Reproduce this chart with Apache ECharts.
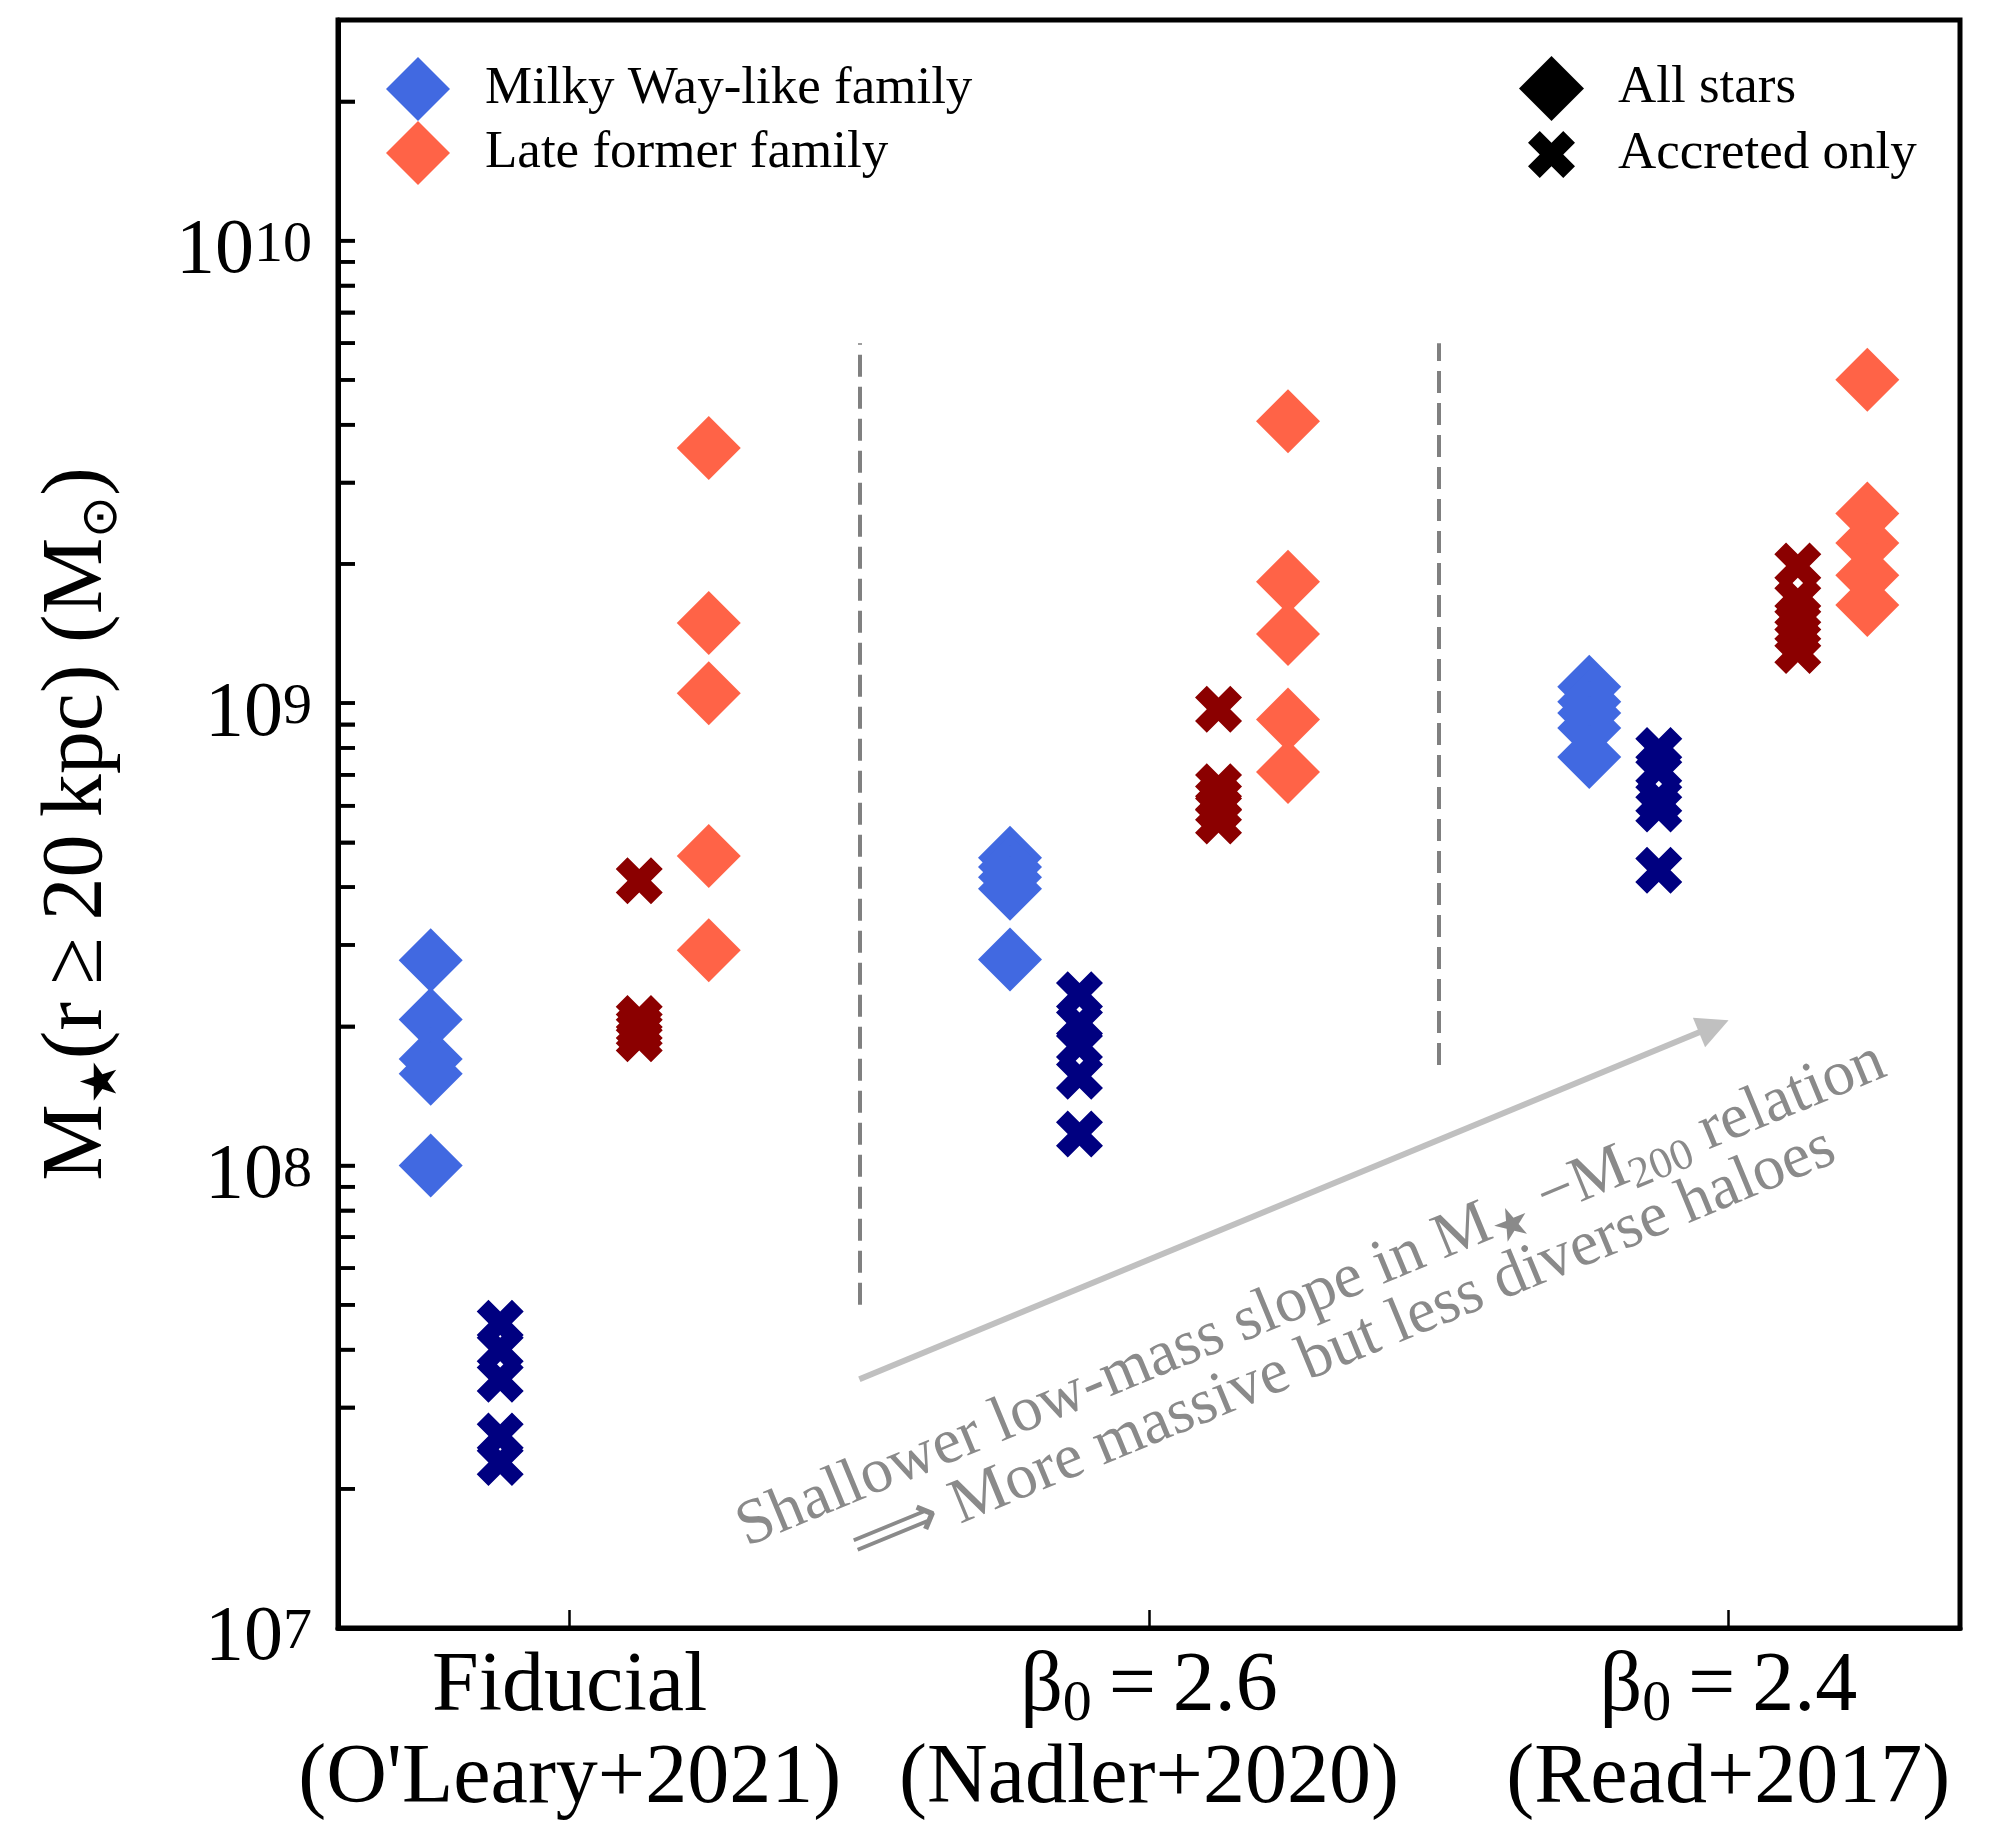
<!DOCTYPE html>
<html><head><meta charset="utf-8">
<script src="https://cdn.jsdelivr.net/npm/echarts@6/dist/echarts.min.js"></script>
<style>html,body{margin:0;padding:0;background:#fff}#c{width:1999px;height:1822px}</style>
</head><body><div id="c"></div><script>
// ---------------- data ----------------
const categories = ['Fiducial', 'β0 = 2.6', 'β0 = 2.4'];
const references = ["(O'Leary+2021)", '(Nadler+2020)', '(Read+2017)'];
const categoryPositions = [0, 1, 2];

// Milky Way-like family, all stars (blue diamonds)
const mwAllStars = [
  [2.78e8, 2.07e8, 1.70e8, 1.58e8, 1.0e8],
  [4.63e8, 4.42e8, 4.2e8, 3.97e8, 2.79e8],
  [1.085e9, 1.007e9, 9.52e8, 8.83e8, 7.65e8]
];
// Milky Way-like family, accreted only (navy crosses)
const mwAccreted = [
  [4.56e7, 4.0e7, 3.45e7, 2.60e7, 2.28e7],
  [2.34e8, 2.02e8, 1.82e8, 1.56e8, 1.17e8],
  [7.9e8, 7.2e8, 6.2e8, 5.9e8, 4.35e8]
];
// Late former family, all stars (orange diamonds)
const lfAllStars = [
  [3.56e9, 1.49e9, 1.05e9, 4.67e8, 2.92e8],
  [4.07e9, 1.83e9, 1.41e9, 9.22e8, 7.10e8],
  [5.0e9, 2.57e9, 2.22e9, 1.89e9, 1.63e9]
];
// Late former family, accreted only (dark red crosses)
const lfAccreted = [
  [4.13e8, 2.08e8, 2.0e8, 1.95e8, 1.88e8],
  [9.7e8, 6.59e8, 6.23e8, 5.93e8, 5.56e8],
  [1.98e9, 1.67e9, 1.53e9, 1.41e9, 1.30e9]
];
const groupOffsets = { mwAll: -0.24, mwAcc: -0.12, lfAcc: 0.12, lfAll: 0.24 };

const yLabelValues = [1e7, 1e8, 1e9, 1e10];
const yMantissas = [1, 2, 3, 4, 5, 6, 7, 8, 9];
const yMin = 1e7, yMax = 3e10;
const xMin = -0.4, xMax = 2.4;

const dividerX = [0.5, 1.5];
const dividerBottom = [5e7, 1.65e8];
const dividerTop = [6e9, 6e9];
const arrowStart = [0.5, 3.45e7];
const arrowEnd = [1.975, 2.0e8];
const noteLine1Anchor = [1.28, 5.24e7];
const noteLine2Anchor = [1.335, 4.04e7];

// ---------------- build ----------------
const FONT = "'Liberation Serif','Times New Roman',serif";
const CROSS = 'path://M6 0L8 2L6 4L8 6L6 8L4 6L2 8L0 6L2 4L0 2L2 0L4 2Z';
const GRID = { left: 338, right: 39, top: 20, bottom: 193 };
const CHART_W = 1999;
const TICK_PX = 17;

function pts(groups, off) {
  const out = [];
  groups.forEach((vals, i) => vals.forEach(v => out.push([categoryPositions[i] + off, v])));
  return out;
}
const yTicks = [];
for (let e = 7; e <= 10; e++) yMantissas.forEach(m => { const v = m * Math.pow(10, e); if (v <= yMax * 1.0001) yTicks.push(v); });
// tick length expressed in x-data units (from the plot width)
const tickLenData = (xMax - xMin) * TICK_PX / (CHART_W - GRID.left - GRID.right);

function richCat(s) {
  if (s.startsWith('β0')) return '{n|β}{sub|0}{n|' + s.slice(2).replace(/ /g, '\u2009') + '}';
  return '{n|' + s + '}';
}

const chart = echarts.init(document.getElementById('c'), null, { renderer: 'canvas' });
const scatterBase = { type: 'scatter', emphasis: { disabled: true }, z: 3 };
const legendText = { fontFamily: FONT, fontSize: 53, color: '#000' };
const spine = { show: true, onZero: false, lineStyle: { color: '#000', width: 5 } };

chart.setOption({
  animation: false,
  backgroundColor: '#fff',
  grid: Object.assign({ show: true, borderColor: '#000', borderWidth: 5, backgroundColor: 'transparent' }, GRID),
  legend: [
    { data: ['Milky Way-like family', 'Late former family'], orient: 'vertical', left: 386, top: 57, itemWidth: 64, itemHeight: 64, itemGap: 0, padding: 0, selectedMode: false,
      textStyle: Object.assign({ padding: [0, 0, 0, 30] }, legendText) },
    { data: ['All stars'], orient: 'vertical', left: 1519, top: 56, itemWidth: 65, itemHeight: 65, padding: 0, selectedMode: false,
      textStyle: Object.assign({ padding: [0, 0, 0, 29] }, legendText) },
    { data: ['Accreted only'], orient: 'vertical', left: 1528, top: 128, itemWidth: 47, itemHeight: 47, padding: 0, selectedMode: false,
      textStyle: Object.assign({ padding: [0, 0, 0, 38] }, legendText) }
  ],
  xAxis: {
    type: 'value', min: xMin, max: xMax, position: 'bottom',
    axisLine: spine, splitLine: { show: false },
    axisTick: { show: true, inside: true, length: 18, lineStyle: { color: '#000', width: 2.5 }, customValues: categoryPositions },
    axisLabel: {
      customValues: categoryPositions, margin: 14, color: '#000',
      formatter: v => { const i = Math.round(v); return richCat(categories[i]) + '\n{n|' + references[i] + '}'; },
      rich: {
        n: { fontFamily: FONT, fontSize: 84, lineHeight: 92, color: '#000' },
        sub: { fontFamily: FONT, fontSize: 58, lineHeight: 34, verticalAlign: 'bottom', color: '#000' }
      }
    }
  },
  yAxis: {
    type: 'log', logBase: 10, min: yMin, max: yMax, position: 'left',
    axisLine: spine, splitLine: { show: false }, minorTick: { show: false },
    axisTick: { show: false },
    axisLabel: {
      customValues: yLabelValues, margin: 26, padding: [26, 0, 0, 0], color: '#000',
      formatter: v => '{b|10}{s|' + Math.round(Math.log10(v)) + '}',
      rich: {
        b: { fontFamily: FONT, fontSize: 78, lineHeight: 74, verticalAlign: 'bottom', color: '#000' },
        s: { fontFamily: FONT, fontSize: 58, lineHeight: 12, verticalAlign: 'top', color: '#000' }
      }
    },
    name: '{m|M}{sub|★}{m|(r\u2009≥\u200920\u2009kpc) (M}{sub|⊙}{m|)}',
    nameLocation: 'middle', nameGap: 210, nameRotate: 90,
    nameTextStyle: {
      rich: {
        m: { fontFamily: FONT, fontSize: 86, lineHeight: 100, color: '#000' },
        sub: { fontFamily: FONT, fontSize: 50, lineHeight: 30, verticalAlign: 'bottom', color: '#000' }
      }
    }
  },
  series: [
    Object.assign({}, scatterBase, { name: 'Milky Way-like family', symbol: 'diamond', symbolSize: 64, itemStyle: { color: '#4169E1', opacity: 1 }, data: pts(mwAllStars, groupOffsets.mwAll) }),
    Object.assign({}, scatterBase, { name: 'Milky Way-like family (accreted)', symbol: CROSS, symbolSize: 47, itemStyle: { color: '#000080', opacity: 1 }, data: pts(mwAccreted, groupOffsets.mwAcc) }),
    Object.assign({}, scatterBase, { name: 'Late former family (accreted)', symbol: CROSS, symbolSize: 47, itemStyle: { color: '#8B0000', opacity: 1 }, data: pts(lfAccreted, groupOffsets.lfAcc) }),
    Object.assign({}, scatterBase, { name: 'Late former family', symbol: 'diamond', symbolSize: 64, itemStyle: { color: '#FF6347', opacity: 1 }, data: pts(lfAllStars, groupOffsets.lfAll) }),
    Object.assign({}, scatterBase, { name: 'All stars', symbol: 'diamond', symbolSize: 64, itemStyle: { color: '#000', opacity: 1 }, data: [] }),
    Object.assign({}, scatterBase, { name: 'Accreted only', symbol: CROSS, symbolSize: 47, itemStyle: { color: '#000', opacity: 1 }, data: [] }),
    { type: 'lines', coordinateSystem: 'cartesian2d', z: 2, silent: true,
      lineStyle: { color: '#808080', width: 4, type: [22, 10], opacity: 1 },
      data: dividerX.map((x, i) => ({ coords: [[x, dividerBottom[i]], [x, dividerTop[i]]] })) },
    { type: 'lines', coordinateSystem: 'cartesian2d', z: 2, silent: true,
      symbol: ['none', 'triangle'], symbolSize: 32,
      lineStyle: { color: '#c0c0c0', width: 6, opacity: 1 },
      data: [{ coords: [arrowStart, arrowEnd] }] },
    // inward log ticks on the left spine (through the y scale)
    { type: 'lines', coordinateSystem: 'cartesian2d', z: 6, silent: true, clip: false,
      lineStyle: { color: '#000', width: 3.5, type: 'solid', opacity: 1 },
      data: yTicks.map(v => ({ coords: [[xMin, v], [xMin + tickLenData, v]] })) }
  ]
});

const toPx = v => chart.convertToPixel({ xAxisIndex: 0, yAxisIndex: 0 }, v);

// rotated annotation text, anchored in data coordinates, parallel to the arrow
const p0 = toPx(arrowStart);
const p1 = toPx(arrowEnd);
const ang = Math.atan2(p0[1] - p1[1], p1[0] - p0[0]);
const a1 = toPx(noteLine1Anchor);
const a2 = toPx(noteLine2Anchor);
const noteRich = {
  t: { fontFamily: FONT, fontSize: 64, lineHeight: 72, fill: '#8a8a8a' },
  ts: { fontFamily: FONT, fontSize: 44, lineHeight: 26, verticalAlign: 'bottom', fill: '#8a8a8a' }
};
const tickRects = yTicks.map(v => {
  const p = toPx([xMin, v]);
  return { type: 'rect', z: 30, silent: true, shape: { x: p[0], y: p[1] - 1.75, width: TICK_PX, height: 3.5 }, style: { fill: '#000' } };
});
chart.setOption({
  graphic: [
    { type: 'text', x: a1[0], y: a1[1], rotation: ang, z: 10,
      style: { text: '{t|Shallower low-mass slope in M}{ts|★}{t| \u2212M}{ts|200}{t| relation}', rich: noteRich, align: 'center', verticalAlign: 'middle', fill: '#8a8a8a' } },
    { type: 'text', x: a2[0], y: a2[1], rotation: ang, z: 10,
      style: { text: '{t|\u27F9 More massive but less diverse haloes}', rich: noteRich, align: 'center', verticalAlign: 'middle', fill: '#8a8a8a' } }
  ].concat(tickRects)
});
</script></body></html>
